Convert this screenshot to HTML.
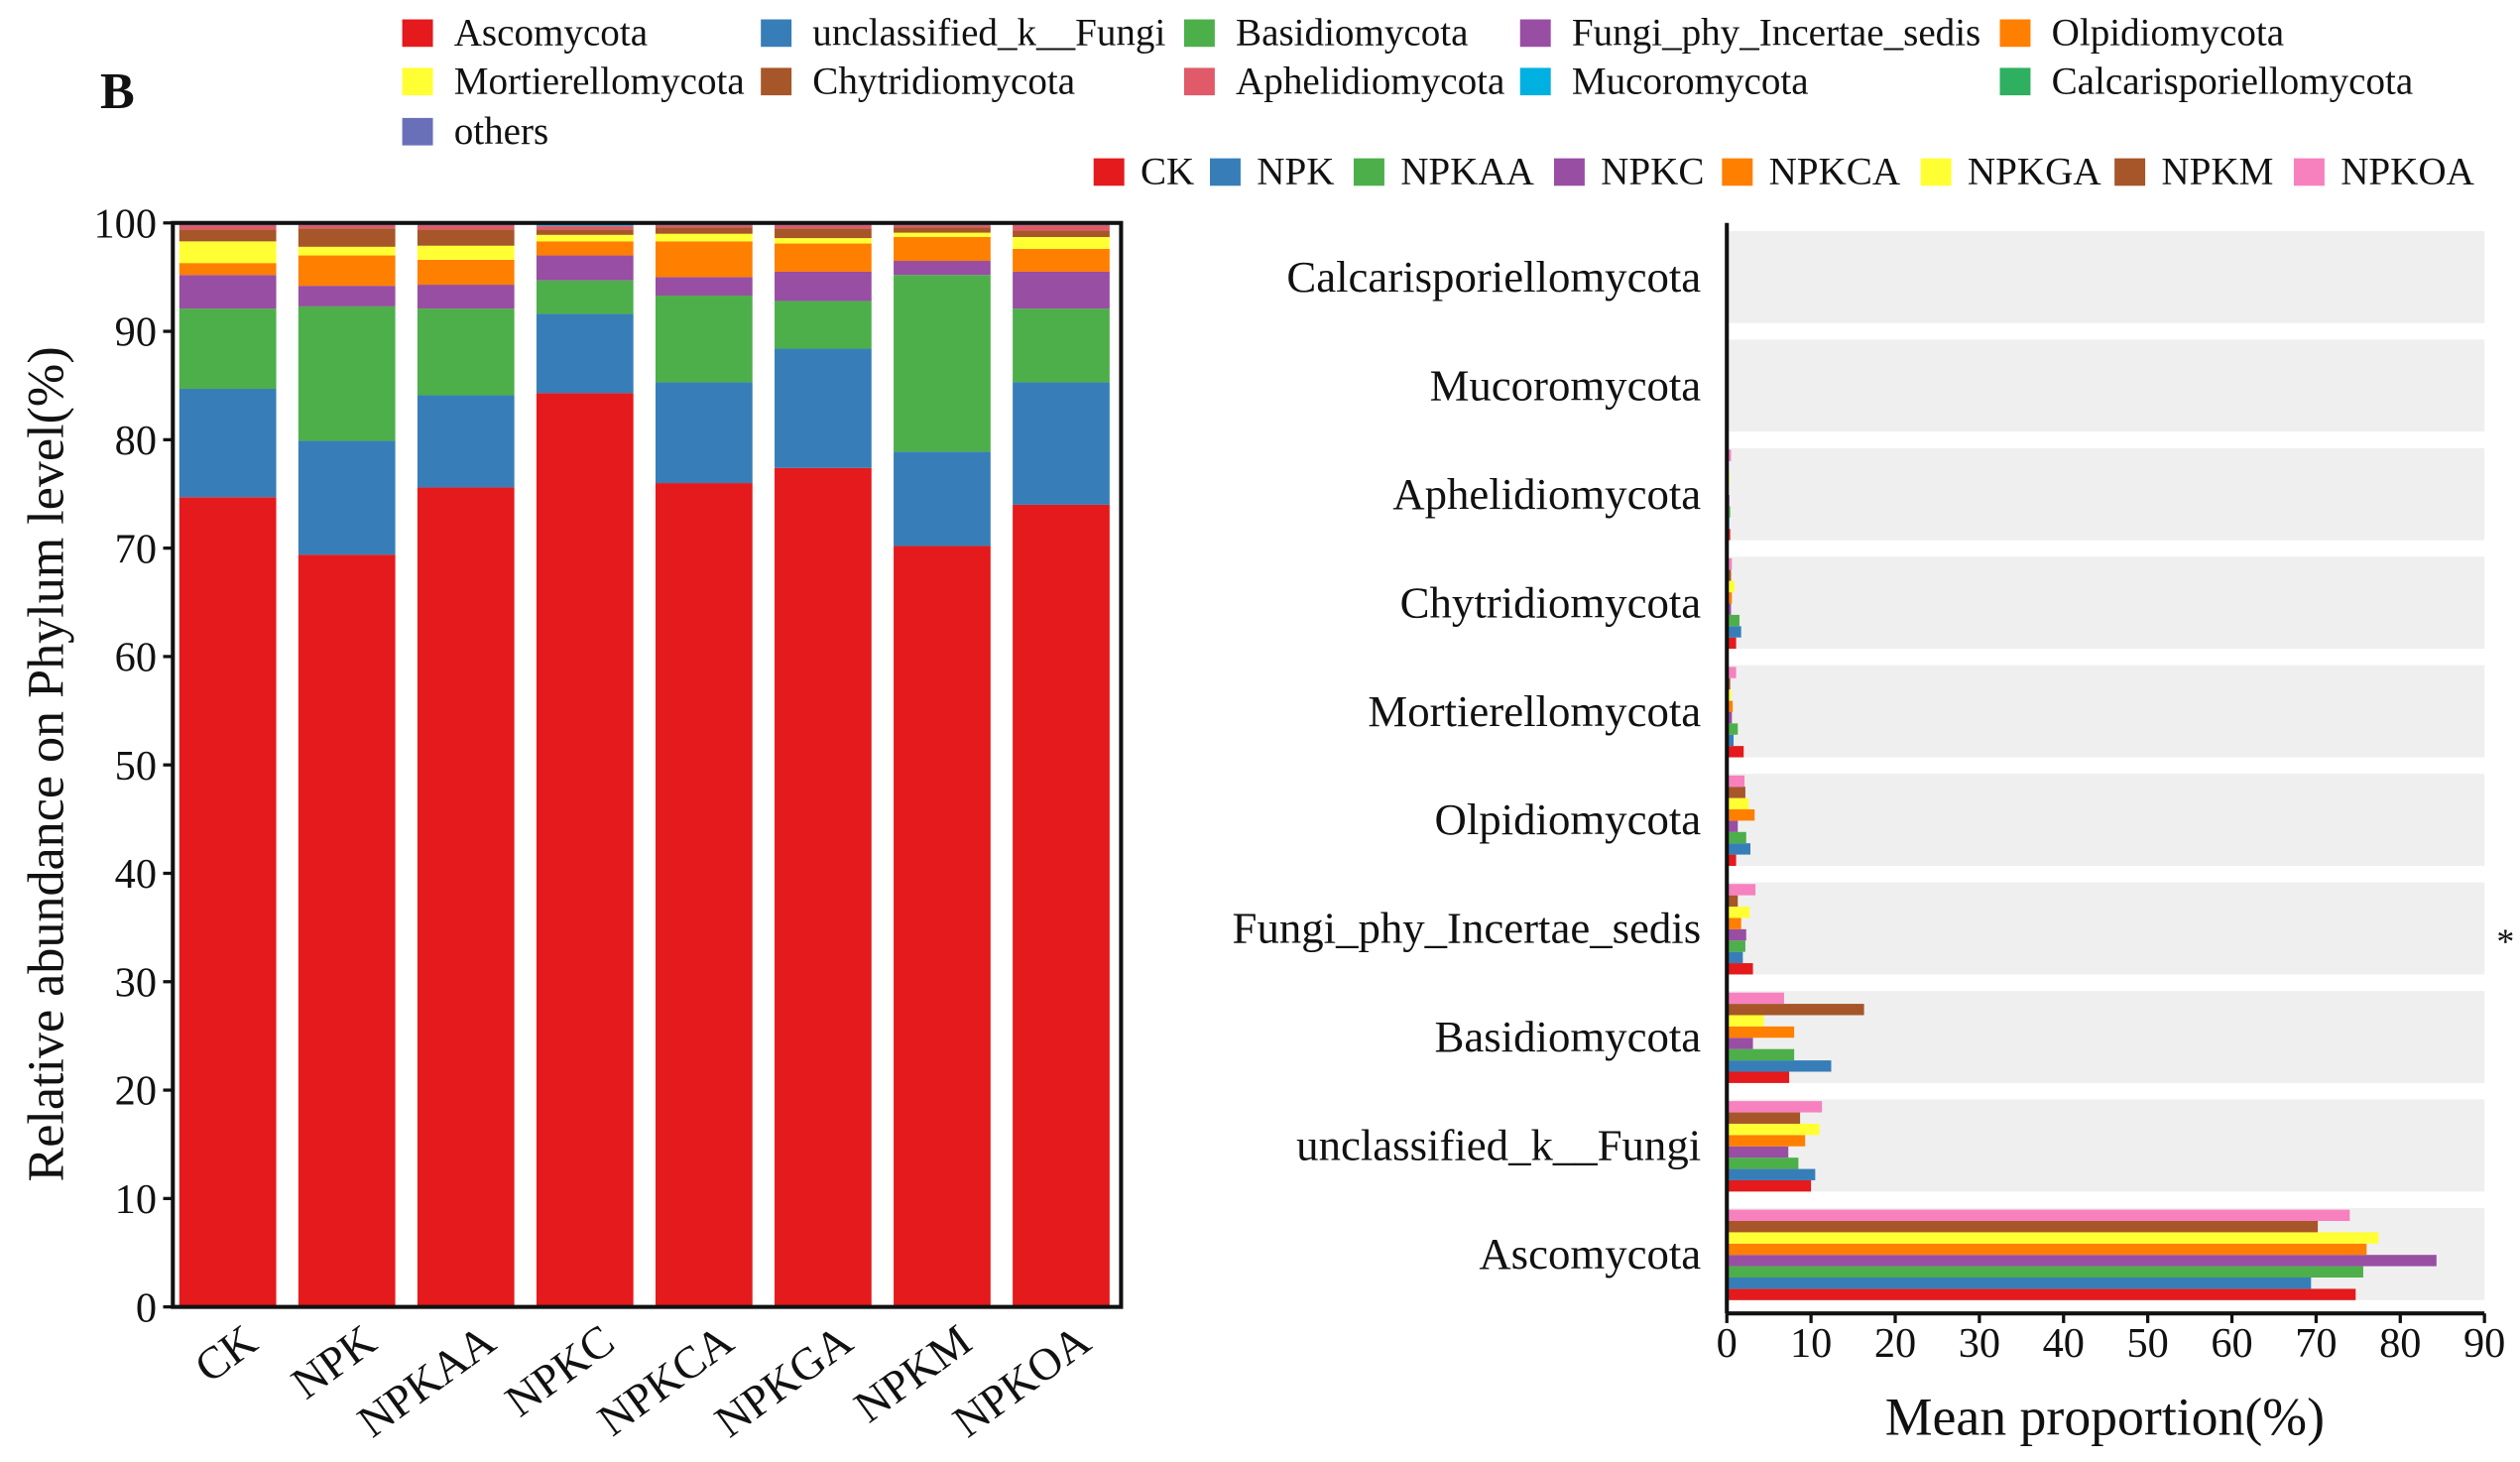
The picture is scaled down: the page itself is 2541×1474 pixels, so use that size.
<!DOCTYPE html>
<html><head><meta charset="utf-8"><style>
html,body{margin:0;padding:0;background:#fff}
svg{display:block}
text{font-family:"Liberation Serif",serif;fill:#111}
</style></head><body>
<svg id="chart" width="2541" height="1474" viewBox="0 0 1560 905" preserveAspectRatio="none" xmlns="http://www.w3.org/2000/svg"></svg>
<script>
const groups = ["CK","NPK","NPKAA","NPKC","NPKCA","NPKGA","NPKM","NPKOA"];
const phyla = ["Ascomycota","unclassified_k__Fungi","Basidiomycota","Fungi_phy_Incertae_sedis","Olpidiomycota","Mortierellomycota","Chytridiomycota","Aphelidiomycota","Mucoromycota","Calcarisporiellomycota","others"];
const phylaColors = ["#e41a1c","#377eb8","#4daf4a","#984ea3","#ff7f00","#ffff33","#a65628","#e05a6a","#00b0e0","#2eb060","#6a70b8"];
const groupColors = ["#e41a1c","#377eb8","#4daf4a","#984ea3","#ff7f00","#ffff33","#a65628","#f781bf"];
// values per phylum across groups (%)
const ascomycota   = [74.7,69.4,75.6,84.3,76.0,77.4,70.2,74.0];
const unclassified = [10.0,10.5,8.5,7.3,9.3,11.0,8.7,11.3];
const basidio      = [7.4,12.4,8.0,3.1,8.0,4.4,16.3,6.8];
const fungiPhy     = [3.1,1.9,2.2,2.3,1.7,2.7,1.3,3.4];
const olpidio      = [1.1,2.8,2.3,1.3,3.3,2.6,2.2,2.1];
const mortierello  = [2.0,0.8,1.3,0.6,0.7,0.5,0.4,1.1];
const chytridio    = [1.1,1.7,1.5,0.5,0.6,0.9,0.5,0.6];
const aphelidio    = [0.4,0.3,0.4,0.3,0.2,0.3,0.2,0.5];
const mucoro       = [0.05,0.05,0.05,0.05,0.05,0.05,0.05,0.05];
const calcari      = [0.02,0.02,0.02,0.02,0.02,0.02,0.02,0.02];
const others       = [0.13,0.13,0.13,0.23,0.13,0.13,0.13,0.13];
const series = [ascomycota,unclassified,basidio,fungiPhy,olpidio,mortierello,chytridio,aphelidio,mucoro,calcari,others];
const yTicks = [0,10,20,30,40,50,60,70,80,90,100];
const xTicksRight = [0,10,20,30,40,50,60,70,80,90];
const rightCats = ["Calcarisporiellomycota","Mucoromycota","Aphelidiomycota","Chytridiomycota","Mortierellomycota","Olpidiomycota","Fungi_phy_Incertae_sedis","Basidiomycota","unclassified_k__Fungi","Ascomycota"];
const rightSeriesIdx = [9,8,7,6,5,4,3,2,1,0];

const svg = document.getElementById('chart');
const NS = "http://www.w3.org/2000/svg";
function mk(tag, attrs, parent){const e=document.createElementNS(NS,tag);for(const k in attrs)e.setAttribute(k,attrs[k]);(parent||svg).appendChild(e);return e;}
function txt(s, attrs, parent){const e=mk('text',attrs,parent);e.textContent=s;return e;}

// Left axes
const L = {x0:107,x1:694,yTop:138,yBot:809};
const yS = v => L.yBot - v/100*(L.yBot-L.yTop);
const barX = i => 111 + i*73.7;
const barW = 60;
const gL = mk('g',{});


groups.forEach((g,i)=>{
  let cum=0;
  series.forEach((s,p)=>{
    const v=s[i];
    const r=mk('rect',{x:barX(i),y:yS(cum+v),width:barW,height:yS(cum)-yS(cum+v),fill:phylaColors[p]},gL);
    
    
    cum+=v;
  });
  const lbl=txt(g,{x:0,y:0,'font-size':28,'text-anchor':'end',transform:`translate(${barX(i)+barW/2+20},${834}) rotate(-36)`},gL);
  
  
});
const frame=mk('rect',{x:L.x0,y:L.yTop,width:L.x1-L.x0,height:L.yBot-L.yTop,fill:'none',stroke:'#111','stroke-width':2.5},gL);


yTicks.forEach(t=>{
  mk('line',{x1:L.x0-6,x2:L.x0,y1:yS(t),y2:yS(t),stroke:'#111','stroke-width':2},gL);
  const tl=txt(String(t),{x:L.x0-10,y:yS(t)+9,'font-size':26,'text-anchor':'end'},gL);
  
  
});
const yt=txt('Relative abundance on Phylum level(%)',{x:0,y:0,'font-size':32,'text-anchor':'middle',transform:'translate(39,473) rotate(-90)'});


const bl=txt('B',{x:62,y:67,'font-size':32,'font-weight':'bold'});



// Top legend
const legPos=[[249,20],[471,20],[733,20],[941,20],[1238,20],[249,50],[471,50],[733,50],[941,50],[1238,50],[249,81]];
phyla.forEach((p,i)=>{
  const [x,y]=legPos[i];
  const g=mk('g',{});
  
  
  mk('rect',{x:x,y:y-8,width:19,height:17,fill:phylaColors[i]},g);
  txt(p,{x:x+32,y:y+8,'font-size':24},g);
});
const leg2X=[677,749,838,962,1066,1189,1309,1420];
groups.forEach((gname,i)=>{
  const g=mk('g',{});
  
  
  mk('rect',{x:leg2X[i],y:98,width:19,height:17,fill:groupColors[i]},g);
  txt(gname,{x:leg2X[i]+29,y:114,'font-size':24},g);
});

// Right chart
const R={x0:1069,x1:1538,axisY:813};
const xS=v=>R.x0+v/90*(R.x1-R.x0);
const gR=mk('g',{});


rightCats.forEach((c,k)=>{
  const top=143+k*67.2, h=57;
  const bg=mk('rect',{x:R.x0,y:top,width:R.x1-R.x0,height:h,fill:'#efefef'},gR);
  
  
  const s=series[rightSeriesIdx[k]];
  const bh=(h-1)/8;
  groups.forEach((g,i)=>{
    const y=top+h-(i+1)*bh;
    const r=mk('rect',{x:R.x0,y:y,width:Math.max(0,xS(s[i])-R.x0),height:bh,fill:groupColors[i]},gR);
    
    
  });
  const cl=txt(c,{x:1053,y:top+h/2+9,'font-size':27.5,'text-anchor':'end'},gR);
  
  
});
mk('line',{x1:R.x0,x2:R.x0,y1:138,y2:R.axisY,stroke:'#111','stroke-width':2.5},gR);
mk('line',{x1:R.x0,x2:R.x1,y1:R.axisY,y2:R.axisY,stroke:'#111','stroke-width':2.5},gR);
xTicksRight.forEach(t=>{
  mk('line',{x1:xS(t),x2:xS(t),y1:R.axisY,y2:R.axisY+6,stroke:'#111','stroke-width':2},gR);
  const tl=txt(String(t),{x:xS(t),y:840,'font-size':26,'text-anchor':'middle'},gR);
  
  
});
const xt=txt('Mean proportion(%)',{x:1303,y:888,'font-size':33,'text-anchor':'middle'});


const st=txt('*',{x:1551,y:590,'font-size':22,'text-anchor':'middle'});


</script>
</body></html>
